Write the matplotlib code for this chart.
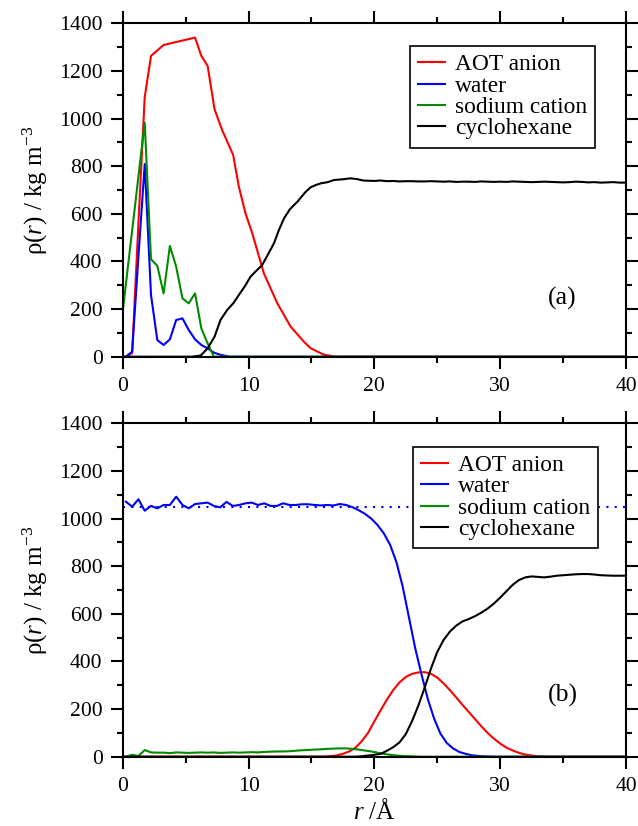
"""Radial density profiles of the AOT reverse micelle, panels (a) and (b)."""

import numpy as np
import matplotlib

matplotlib.use("Agg")
import matplotlib.pyplot as plt
from matplotlib.ticker import MultipleLocator

plt.rcParams["font.family"] = ["Liberation Serif", "DejaVu Serif"]
plt.rcParams["mathtext.fontset"] = "custom"
plt.rcParams["mathtext.rm"] = "Liberation Serif"
plt.rcParams["mathtext.it"] = "Liberation Serif:italic"

LABELS = ["AOT anion", "water", "sodium cation", "cyclohexane"]
COLORS = ["#ff0000", "#0000ff", "#008b00", "#000000"]

# ---------------------------------------------------------------------------
# Panel (a)
# ---------------------------------------------------------------------------
r_aot_a = [0.0, 0.25, 0.75, 1.25, 1.75, 2.25, 3.25, 5.75, 6.25, 6.75, 7.3, 7.9,
           8.78, 9.23, 9.76, 10.3, 11.22, 12.29, 13.35, 14.4, 14.95, 16.0, 17.0, 40.0]
rho_aot_a = [0, 0, 15, 560, 1090, 1263, 1309, 1340, 1263, 1221, 1039, 952,
             847, 714, 602, 518, 350, 224, 126, 63, 35, 8, 0, 0]

r_water_a = [0.25, 0.75, 1.25, 1.75, 2.25, 2.75, 3.25, 3.75, 4.25, 4.75, 5.25,
             5.75, 6.25, 6.75, 7.25, 7.75, 8.5, 40.0]
rho_water_a = [0, 21, 420, 809, 259, 70, 49, 73, 154, 161, 112,
               73, 49, 35, 17, 8, 0, 0]

r_sodium_a = [0.0, 1.75, 2.25, 2.75, 3.25, 3.75, 4.25, 4.75, 5.25, 5.75, 6.25,
              6.75, 7.25, 40.0]
rho_sodium_a = [190, 983, 409, 382, 266, 465, 378, 245, 224, 266, 119,
                56, 0, 0]

r_cyclo_a = [0.0, 5.5, 6.2, 6.75, 7.3, 7.77, 8.3, 8.8, 9.23, 9.7, 10.16, 10.6,
             11.09, 11.5, 12.02, 12.4, 12.82, 13.3, 13.89, 14.5, 14.95, 15.4,
             15.75, 16.3, 16.8, 17.5, 18.1, 18.6, 19.1, 19.5] + list(np.arange(20.0, 40.01, 0.5))
rho_cyclo_a = [0, 0, 5, 35, 84, 154, 196, 225, 259, 295, 336, 360,
               385, 425, 476, 530, 581, 620, 651, 690, 712, 722,
               728, 733, 742, 745, 749, 746, 740, 739,
               738, 740, 737, 738, 736, 737, 737, 736, 736, 737, 736, 735, 736, 734,
               735, 735, 734, 736, 735, 734, 735, 734, 736, 735, 734, 733, 734, 735,
               734, 733, 732, 733, 735, 734, 732, 733, 731, 732, 733, 731, 731]

# ---------------------------------------------------------------------------
# Panel (b)
# ---------------------------------------------------------------------------
r_water_b = list(np.arange(0.25, 27.8, 0.5)) + [28.5, 29.5, 40.0]
rho_water_b = [1071, 1050, 1081, 1033, 1053, 1043, 1057, 1057, 1092, 1057, 1043,
               1061, 1064, 1067, 1053, 1047, 1070, 1053, 1057, 1064, 1067, 1057,
               1064, 1053, 1053, 1064, 1057, 1057, 1060, 1060, 1057, 1055, 1057,
               1055, 1061,
               1057, 1048, 1035, 1020, 1000, 973, 938, 890, 818, 715, 585, 455,
               345, 242, 160, 97, 58, 35, 20, 12, 6,
               2, 0, 0]
water_bulk_b = 1050

r_sodium_b = list(np.arange(0.25, 23.8, 0.5)) + [25.0, 40.0]
rho_sodium_b = [0, 8, 3, 28, 18, 17, 17, 15, 18, 17, 16, 17, 18, 17, 18, 16, 17,
                18, 17, 18, 19, 18, 20, 21, 22, 22, 23, 25, 27, 28, 30, 31, 33, 34, 35,
                35, 33, 30, 26, 22, 17, 12, 8, 5, 3, 2, 1, 0,
                0, 0]

r_aot_b = [0.0] + list(np.arange(16.0, 34.01, 0.5)) + [40.0]
rho_aot_b = [0,
             0, 2, 5, 12, 22, 38, 65, 100, 148, 195, 240, 280, 312, 335, 348, 354,
             355, 348, 332, 308, 280, 249, 218, 188, 158, 128, 100, 76, 55, 38, 26,
             16, 9, 5, 2, 1, 0,
             0]

r_cyclo_b = [0.0] + list(np.arange(18.5, 40.01, 0.5))
rho_cyclo_b = [0,
               0, 2, 5, 8, 12, 25, 40, 60, 95, 150, 215, 290, 370, 440, 490, 525,
               550, 568, 578, 590, 605, 622, 643, 668, 695, 722, 742, 753, 757, 755,
               753, 756, 760, 762, 764, 766, 767, 767, 765, 762, 761, 760, 760, 760]

FIG_W, FIG_H = 638, 826
AX_LEFT, AX_RIGHT = 122.7, 626.0
AX_HEIGHT = 333.4


def style_axis(ax):
    ax.set_xlim(0, 40)
    ax.set_ylim(0, 1400)
    ax.xaxis.set_major_locator(MultipleLocator(10))
    ax.xaxis.set_minor_locator(MultipleLocator(5))
    ax.yaxis.set_major_locator(MultipleLocator(200))
    ax.yaxis.set_minor_locator(MultipleLocator(100))
    ax.tick_params(which="both", direction="out", top=True, right=True,
                   width=1.5, labelsize=15.6, pad=6)
    ax.tick_params(which="major", length=8.5)
    ax.tick_params(which="minor", length=4.5)
    for sp in ax.spines.values():
        sp.set_linewidth(1.5)
    ax.set_ylabel(r"ρ($r$) / kg m$^{-3}$", fontsize=18)
    ax.yaxis.set_label_coords(-0.144, 0.5)


def add_legend(ax, anchor):
    leg = ax.legend(loc="upper right", bbox_to_anchor=anchor, fontsize=16.8,
                    frameon=True, fancybox=False, framealpha=1, edgecolor="black",
                    handlelength=1.16, handletextpad=0.43, labelspacing=0.0,
                    borderpad=0.35, borderaxespad=0)
    leg.get_frame().set_linewidth(1.2)


fig = plt.figure(figsize=(FIG_W / 100, FIG_H / 100), dpi=100)
w = (AX_RIGHT - AX_LEFT) / FIG_W
h = AX_HEIGHT / FIG_H
ax_a = fig.add_axes([AX_LEFT / FIG_W, 1 - 356.7 / FIG_H, w, h])
ax_b = fig.add_axes([AX_LEFT / FIG_W, 1 - 756.7 / FIG_H, w, h])

series_a = [(r_aot_a, rho_aot_a), (r_water_a, rho_water_a),
            (r_sodium_a, rho_sodium_a), (r_cyclo_a, rho_cyclo_a)]
for (r, rho), lab, col in zip(series_a, LABELS, COLORS):
    ax_a.plot(r, rho, color=col, lw=1.5, label=lab)
style_axis(ax_a)
add_legend(ax_a, (0.939, 0.932))
ax_a.text(0.874, 0.176, "(a)", transform=ax_a.transAxes, fontsize=18.5,
          ha="center", va="center")

ax_b.axhline(water_bulk_b, color="#0000ff", lw=1.5, ls=(0, (1, 3)))
series_b = [(r_aot_b, rho_aot_b), (r_water_b, rho_water_b),
            (r_sodium_b, rho_sodium_b), (r_cyclo_b, rho_cyclo_b)]
for (r, rho), lab, col in zip(series_b, LABELS, COLORS):
    ax_b.plot(r, rho, color=col, lw=1.5, label=lab)
style_axis(ax_b)
add_legend(ax_b, (0.945, 0.930))
ax_b.text(0.874, 0.185, "(b)", transform=ax_b.transAxes, fontsize=18.5,
          ha="center", va="center")
ax_b.set_xlabel(r"$r$ /Å", fontsize=18, labelpad=2)

fig.savefig("out.png", dpi=100)
